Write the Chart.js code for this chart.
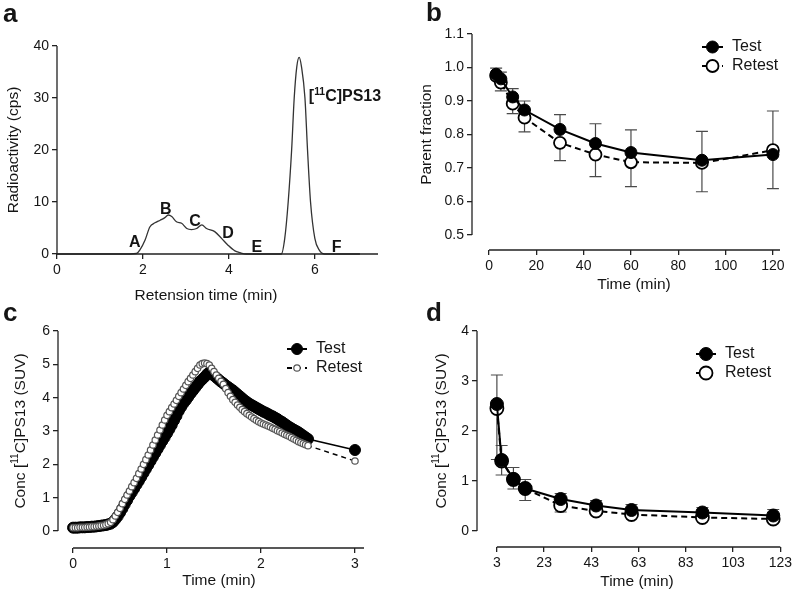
<!DOCTYPE html>
<html>
<head>
<meta charset="utf-8">
<script src="https://cdn.jsdelivr.net/npm/chart.js@4.4.0/dist/chart.umd.min.js"></script>
<style>
  html, body { margin: 0; padding: 0; background: #fff; }
  #wrap { position: relative; width: 795px; height: 596px; }
  #wrap canvas { position: absolute; left: 0; top: 0; }
</style>
</head>
<body>
<div id="wrap">
  <canvas id="panelA" width="795" height="596"></canvas>
  <canvas id="panelB" width="795" height="596"></canvas>
  <canvas id="panelC" width="795" height="596"></canvas>
  <canvas id="panelD" width="795" height="596"></canvas>
</div>
<script>
// ---- data ----
// a: radio-HPLC chromatogram
const chromTime = [0, 1.0, 1.5, 1.85, 1.93, 2.05, 2.16, 2.28, 2.40, 2.51, 2.59, 2.67, 2.78, 2.90, 3.02, 3.13, 3.25, 3.37, 3.48, 3.67, 3.83, 3.98, 4.14, 4.26, 4.40, 5.00, 5.22, 5.30, 5.38, 5.46, 5.52, 5.58, 5.635, 5.69, 5.77, 5.83, 5.90, 6.00, 6.10, 6.23, 6.60, 7.05];
const chromCps  = [0, 0, 0, 0.1, 0.8, 2.7, 5.2, 6.0, 6.5, 7.0, 7.5, 7.2, 6.2, 5.9, 4.9, 4.7, 4.9, 5.6, 4.9, 4.3, 3.0, 1.7, 0.6, 0.25, 0, 0, 0, 3, 10, 20, 30, 36, 37.8, 36, 30, 20, 10, 3, 0.8, 0, 0, 0];
const xTicksA = [0, 2, 4, 6];
const yTicksA = [0, 10, 20, 30, 40];

// b: parent fraction
const timeB = [3, 5, 10, 15, 30, 45, 60, 90, 120];
const testB = [0.98, 0.966, 0.912, 0.873, 0.815, 0.773, 0.746, 0.723, 0.74];
const retestB = [0.975, 0.955, 0.892, 0.85, 0.775, 0.74, 0.717, 0.715, 0.753];
const testErrB = [0.018, 0.02, 0.025, 0.027, 0.044, 0.059, 0.068, 0.086, -0.102];   // sign = direction drawn
const retestErrB = [-0.01, -0.025, -0.03, -0.042, -0.053, -0.066, -0.073, -0.086, 0.117];
const xTicksB = [0, 20, 40, 60, 80, 100, 120];
const yTicksB = [0.5, 0.6, 0.7, 0.8, 0.9, 1.0, 1.1];

// c: early plasma curve (0-3 min)
const timeC = [0, 0.025, 0.05, 0.075, 0.1, 0.125, 0.15, 0.175, 0.2, 0.225, 0.25, 0.275, 0.3, 0.325, 0.35, 0.375, 0.4, 0.425, 0.45, 0.475,
  0.5, 0.525, 0.55, 0.575, 0.6, 0.625, 0.65, 0.675, 0.7, 0.725, 0.75, 0.775, 0.8, 0.825, 0.85, 0.875, 0.9, 0.925, 0.95, 0.975,
  1.0, 1.025, 1.05, 1.075, 1.1, 1.125, 1.15, 1.175, 1.2, 1.225, 1.25, 1.275, 1.3, 1.325, 1.35, 1.375, 1.4, 1.425, 1.45, 1.475,
  1.5, 1.525, 1.55, 1.575, 1.6, 1.625, 1.65, 1.675, 1.7, 1.725, 1.75, 1.775, 1.8, 1.825, 1.85, 1.875, 1.9, 1.925, 1.95, 1.975,
  2.0, 2.025, 2.05, 2.075, 2.1, 2.125, 2.15, 2.175, 2.2, 2.225, 2.25, 2.275, 2.3, 2.325, 2.35, 2.375, 2.4, 2.425, 2.45, 2.475,
  2.5, 3.0];
const testC = [0.10, 0.10, 0.10, 0.11, 0.11, 0.11, 0.12, 0.12, 0.13, 0.13, 0.14, 0.15, 0.16, 0.17, 0.18, 0.20, 0.22, 0.27, 0.35, 0.44,
  0.55, 0.67, 0.80, 0.92, 1.05, 1.16, 1.27, 1.39, 1.50, 1.62, 1.74, 1.86, 1.98, 2.10, 2.22, 2.34, 2.46, 2.58, 2.70, 2.81,
  2.93, 3.05, 3.18, 3.32, 3.45, 3.60, 3.72, 3.83, 3.92, 4.02, 4.12, 4.21, 4.30, 4.39, 4.48, 4.55, 4.62, 4.70, 4.76, 4.72,
  4.66, 4.60, 4.54, 4.48, 4.43, 4.37, 4.32, 4.27, 4.22, 4.16, 4.10, 4.04, 3.98, 3.92, 3.87, 3.82, 3.78, 3.74, 3.70, 3.66,
  3.62, 3.58, 3.55, 3.51, 3.47, 3.44, 3.40, 3.36, 3.31, 3.27, 3.22, 3.17, 3.12, 3.08, 3.04, 3.00, 2.96, 2.91, 2.86, 2.81,
  2.76, 2.43];
const retestC = [0.10, 0.10, 0.10, 0.11, 0.11, 0.11, 0.12, 0.12, 0.13, 0.13, 0.14, 0.15, 0.16, 0.17, 0.19, 0.22, 0.26, 0.34, 0.45, 0.56,
  0.68, 0.82, 0.95, 1.08, 1.20, 1.33, 1.45, 1.58, 1.72, 1.86, 2.00, 2.14, 2.28, 2.43, 2.58, 2.73, 2.88, 3.03, 3.18, 3.33,
  3.47, 3.58, 3.70, 3.81, 3.92, 4.04, 4.15, 4.26, 4.37, 4.48, 4.58, 4.68, 4.78, 4.88, 4.98, 5.02, 5.04, 5.02, 4.98, 4.88,
  4.78, 4.68, 4.58, 4.49, 4.40, 4.27, 4.15, 4.04, 3.94, 3.86, 3.78, 3.71, 3.64, 3.58, 3.52, 3.47, 3.42, 3.37, 3.32, 3.28,
  3.24, 3.21, 3.18, 3.15, 3.12, 3.08, 3.05, 3.01, 2.98, 2.94, 2.90, 2.87, 2.84, 2.80, 2.76, 2.72, 2.68, 2.65, 2.62, 2.59,
  2.56, 2.10];
const xTicksC = [0, 1, 2, 3];
const yTicksC = [0, 1, 2, 3, 4, 5, 6];

// d: plasma concentration 3-120 min
const timeD = [3, 5, 10, 15, 30, 45, 60, 90, 120];
const testD = [2.54, 1.42, 1.04, 0.85, 0.64, 0.51, 0.42, 0.37, 0.31];
const retestD = [2.45, 1.40, 1.03, 0.85, 0.51, 0.40, 0.33, 0.27, 0.24];
const testErrD = [0.58, 0.29, 0.23, 0.18, 0.11, 0.10, 0.11, 0.10, 0.12];
const retestErrD = [-1.02, -0.28, -0.19, -0.24, -0.13, -0.07, -0.06, -0.05, -0.05];
const xTicksD = [3, 23, 43, 63, 83, 103, 123];
const yTicksD = [0, 1, 2, 3, 4];

const seriesNames = ['Test', 'Retest'];
const peakNames = ['A', 'B', 'C', 'D', 'E', 'F'];

// ---- drawing helpers ----
const FONT = '"Liberation Sans", Arial, Helvetica, sans-serif';
const INK = '#151515';

function pts(xs, ys) {
    return xs.map((x, i) => ({ x: x, y: ys[i] }));
}

// parts: [[text, isSuperscript], ...]
function richText(ctx, parts, x, y, size, bold, align) {
    const f = s => (bold ? 'bold ' : '') + s + 'px ' + FONT;
    let w = 0;
    parts.forEach(p => {
        ctx.font = f(p[1] ? size * 0.65 : size);
        w += ctx.measureText(p[0]).width;
    });
    let cx = align === 'center' ? x - w / 2 : x;
    ctx.textAlign = 'left';
    parts.forEach(p => {
        ctx.font = f(p[1] ? size * 0.65 : size);
        ctx.fillText(p[0], cx, p[1] ? y - size * 0.36 : y);
        cx += ctx.measureText(p[0]).width;
    });
}

// Prism style extras: offset axis lines, titles, legend, error bars, labels
const prismPlugin = {
    id: 'prism',
    beforeDatasetsDraw(chart) {
        const ctx = chart.ctx, xs = chart.scales.x, ys = chart.scales.y;
        chart.data.datasets.forEach(ds => {
            if (!ds.err) return;
            ctx.save();
            ctx.strokeStyle = '#4a4a4a';
            ctx.lineWidth = 1.2;
            ds.data.forEach((p, i) => {
                const e = ds.err[i];
                if (!e) return;
                const px = xs.getPixelForValue(p.x);
                const y0 = ys.getPixelForValue(p.y);
                const y1 = ys.getPixelForValue(p.y + e);
                ctx.beginPath();
                ctx.moveTo(px, y0); ctx.lineTo(px, y1);
                ctx.moveTo(px - 6, y1); ctx.lineTo(px + 6, y1);
                ctx.stroke();
            });
            ctx.restore();
        });
    },
    afterDraw(chart, args, o) {
        const ctx = chart.ctx, xs = chart.scales.x, ys = chart.scales.y, ca = chart.chartArea;
        const xt = xs.ticks, yt = ys.ticks;
        ctx.save();

        // axis lines
        ctx.strokeStyle = '#222';
        ctx.lineWidth = 1.3;
        ctx.beginPath();
        ctx.moveTo(xs.getPixelForValue(xt[0].value), ca.bottom);
        ctx.lineTo(ca.right, ca.bottom);
        ctx.moveTo(ca.left, ys.getPixelForValue(yt[0].value));
        ctx.lineTo(ca.left, ys.getPixelForValue(yt[yt.length - 1].value));
        ctx.stroke();

        ctx.fillStyle = INK;
        ctx.textBaseline = 'middle';

        // x title
        richText(ctx, o.xTitle, o.xTitleAt[0], o.xTitleAt[1], 15.5, false, 'center');

        // y title (rotated, centred on tick range)
        const yMid = (ys.getPixelForValue(yt[0].value) + ys.getPixelForValue(yt[yt.length - 1].value)) / 2;
        ctx.save();
        ctx.translate(o.yTitleX, yMid);
        ctx.rotate(-Math.PI / 2);
        richText(ctx, o.yTitle, 0, 0, 15.5, false, 'center');
        ctx.restore();

        // legend
        if (o.legend) {
            const L = o.legend;
            chart.data.datasets.forEach((ds, i) => {
                const y = L.y + i * L.dy;
                ctx.save();
                ctx.strokeStyle = ds.borderColor;
                ctx.lineWidth = L.lineWidth || ds.borderWidth;
                ctx.setLineDash(ds.borderDash || []);
                ctx.beginPath();
                ctx.moveTo(L.x, y); ctx.lineTo(L.x + L.len, y);
                ctx.stroke();
                ctx.setLineDash([]);
                ctx.beginPath();
                ctx.arc(L.x + L.len / 2, y, ds.pointRadius, 0, Math.PI * 2);
                ctx.fillStyle = ds.pointBackgroundColor;
                ctx.fill();
                ctx.lineWidth = ds.pointBorderWidth;
                ctx.strokeStyle = ds.pointBorderColor;
                ctx.stroke();
                ctx.restore();
                ctx.font = '16px ' + FONT;
                ctx.textAlign = 'left';
                ctx.fillText(ds.label, L.textX, y);
            });
        }

        // annotations in data coordinates
        (o.notes || []).forEach(n => {
            ctx.textBaseline = 'alphabetic';
            const px = xs.getPixelForValue(n.x), py = ys.getPixelForValue(n.y);
            richText(ctx, n.parts, px, py, 16, true, n.align || 'center');
        });

        // panel letter
        ctx.textBaseline = 'alphabetic';
        ctx.textAlign = 'left';
        ctx.font = 'bold 26px ' + FONT;
        ctx.fillText(o.letter[0], o.letter[1], o.letter[2]);
        ctx.restore();
    }
};

// fixed box sizes so the plot area lands where we want it
const Y_BOX = 57, X_BOX = 40;

function makeScale(min, max, ticks, fmt, isX) {
    return {
        type: 'linear',
        min: min,
        max: max,
        afterBuildTicks: s => { s.ticks = ticks.map(v => ({ value: v })); },
        afterFit: s => { if (isX) s.height = X_BOX; else s.width = Y_BOX; },
        border: { display: false },
        grid: { display: true, drawOnChartArea: false, drawTicks: true, tickLength: 5, color: '#222', lineWidth: 1.3 },
        ticks: {
            color: INK,
            font: { family: FONT, size: 14 },
            padding: 3,
            maxRotation: 0,
            autoSkip: false,
            callback: fmt
        }
    };
}

// area = [left, right, top, bottom] of the plot area in page pixels
function baseOptions(area, scales, prism) {
    return {
        responsive: false,
        animation: false,
        devicePixelRatio: 1,
        layout: { padding: { left: area[0] - Y_BOX, top: area[2], right: 795 - area[1], bottom: 596 - area[3] - X_BOX } },
        scales: scales,
        plugins: { legend: { display: false }, tooltip: { enabled: false }, prism: prism }
    };
}

const intFmt = v => String(v);

// ---- panel a ----
new Chart(document.getElementById('panelA'), {
    type: 'line',
    data: {
        datasets: [{
            label: 'Radioactivity',
            data: pts(chromTime, chromCps),
            borderColor: '#333',
            borderWidth: 1.3,
            pointRadius: 0,
            cubicInterpolationMode: 'monotone',
            clip: false
        }]
    },
    options: baseOptions([57, 378, 46, 254], {
        x: makeScale(0, 7.47, xTicksA, intFmt, true),
        y: makeScale(0, 40, yTicksA, intFmt, false)
    }, {
        xTitle: [['Retension time (min)', false]],
        xTitleAt: [206, 296],
        yTitle: [['Radioactivity (cps)', false]],
        yTitleX: 14,
        letter: ['a', 3, 22],
        notes: [
            { parts: [[peakNames[0], false]], x: 1.81, y: 1.3 },
            { parts: [[peakNames[1], false]], x: 2.53, y: 7.7 },
            { parts: [[peakNames[2], false]], x: 3.21, y: 5.4 },
            { parts: [[peakNames[3], false]], x: 3.98, y: 3.1 },
            { parts: [[peakNames[4], false]], x: 4.65, y: 0.4 },
            { parts: [[peakNames[5], false]], x: 6.51, y: 0.4 },
            { parts: [['[', false], ['11', true], ['C]PS13', false]], x: 5.86, y: 29.4, align: 'left' }
        ]
    }),
    plugins: [prismPlugin]
});

// ---- panel b ----
new Chart(document.getElementById('panelB'), {
    type: 'line',
    data: {
        datasets: [{
            label: seriesNames[0],
            data: pts(timeB, testB),
            err: testErrB,
            borderColor: '#000', borderWidth: 2,
            pointRadius: 6, pointBackgroundColor: '#000', pointBorderColor: '#000', pointBorderWidth: 1,
            clip: false
        }, {
            label: seriesNames[1],
            data: pts(timeB, retestB),
            err: retestErrB,
            borderColor: '#000', borderWidth: 2, borderDash: [6, 4],
            pointRadius: 6, pointBackgroundColor: '#fff', pointBorderColor: '#000', pointBorderWidth: 1.8,
            clip: false
        }]
    },
    options: baseOptions([472, 780, 34, 250], {
        x: makeScale(-7.2, 123, xTicksB, intFmt, true),
        y: makeScale(0.455, 1.1, yTicksB, v => v.toFixed(1), false)
    }, {
        xTitle: [['Time (min)', false]],
        xTitleAt: [634, 285],
        yTitle: [['Parent fraction', false]],
        yTitleX: 427,
        letter: ['b', 426, 21],
        legend: { x: 702, len: 21, textX: 732, y: 47, dy: 19 }
    }),
    plugins: [prismPlugin]
});

// ---- panel c ----
new Chart(document.getElementById('panelC'), {
    type: 'line',
    data: {
        datasets: [{
            label: seriesNames[0],
            data: pts(timeC, testC),
            borderColor: '#000', borderWidth: 1.4,
            pointRadius: 5.5, pointBackgroundColor: '#000', pointBorderColor: '#000', pointBorderWidth: 1,
            order: 1,
            clip: false
        }, {
            label: seriesNames[1],
            data: pts(timeC, retestC),
            borderColor: '#000', borderWidth: 1.4, borderDash: [5, 4],
            pointRadius: 3.2, pointBackgroundColor: '#fff', pointBorderColor: '#555', pointBorderWidth: 1.2,
            order: 0,
            clip: false
        }]
    },
    options: baseOptions([58, 364, 331, 548], {
        x: makeScale(-0.16, 3.096, xTicksC, intFmt, true),
        y: makeScale(-0.51, 6, yTicksC, intFmt, false)
    }, {
        xTitle: [['Time (min)', false]],
        xTitleAt: [219, 581],
        yTitle: [['Conc [', false], ['11', true], ['C]PS13 (SUV)', false]],
        yTitleX: 21,
        letter: ['c', 3, 321],
        legend: { x: 287, len: 20, textX: 316, y: 349, dy: 19, lineWidth: 2 }
    }),
    plugins: [prismPlugin]
});

// ---- panel d ----
new Chart(document.getElementById('panelD'), {
    type: 'line',
    data: {
        datasets: [{
            label: seriesNames[0],
            data: pts(timeD, testD),
            err: testErrD,
            borderColor: '#000', borderWidth: 2,
            pointRadius: 6.5, pointBackgroundColor: '#000', pointBorderColor: '#000', pointBorderWidth: 1,
            clip: false
        }, {
            label: seriesNames[1],
            data: pts(timeD, retestD),
            err: retestErrD,
            borderColor: '#000', borderWidth: 2, borderDash: [6, 4],
            pointRadius: 6.5, pointBackgroundColor: '#fff', pointBorderColor: '#000', pointBorderWidth: 1.8,
            clip: false
        }]
    },
    options: baseOptions([477, 782, 331, 547], {
        x: makeScale(-5.42, 123, xTicksD, intFmt, true),
        y: makeScale(-0.32, 4, yTicksD, intFmt, false)
    }, {
        xTitle: [['Time (min)', false]],
        xTitleAt: [637, 582],
        yTitle: [['Conc [', false], ['11', true], ['C]PS13 (SUV)', false]],
        yTitleX: 442,
        letter: ['d', 426, 321],
        legend: { x: 696, len: 20, textX: 725, y: 354, dy: 19 }
    }),
    plugins: [prismPlugin]
});
</script>
</body>
</html>
